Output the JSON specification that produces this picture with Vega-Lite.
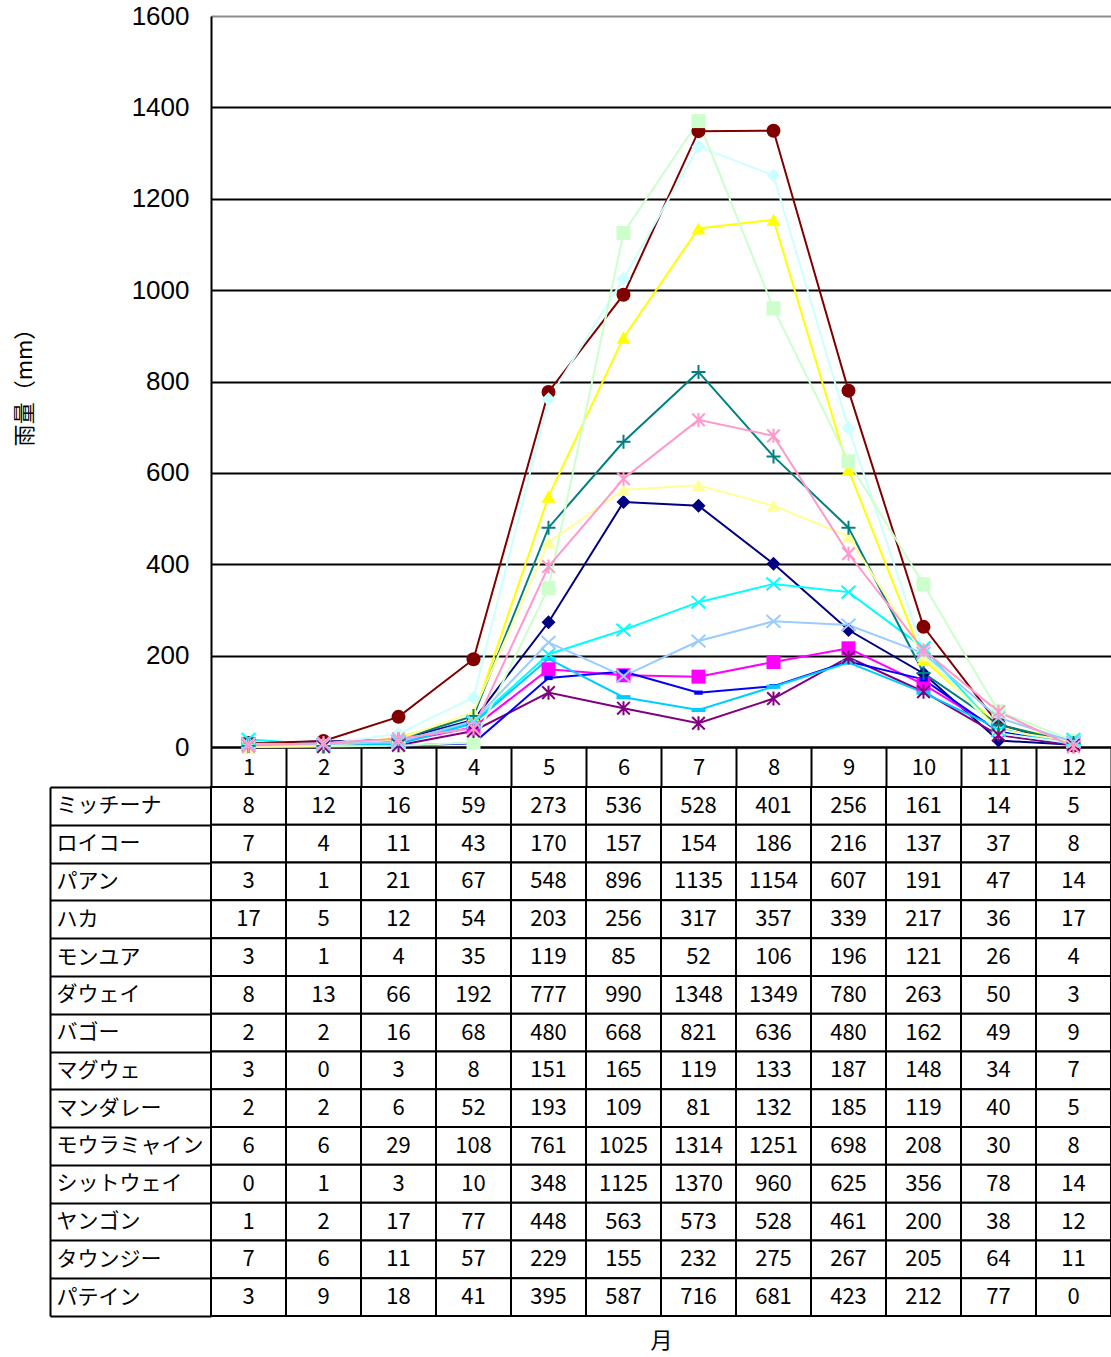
{
  "$schema": "https://vega.github.io/schema/vega-lite/v6.json",
  "background": "white",
  "padding": {"left": 13, "top": 3, "right": 0, "bottom": 4},
  "spacing": 40,
  "bounds": "flush",
  "config": {"view": {"stroke": null}, "font": "Noto Sans CJK JP"},
  "datasets": {
    "rain": [
      {"s":"ミッチーナ","m":1,"v":8},{"s":"ミッチーナ","m":2,"v":12},{"s":"ミッチーナ","m":3,"v":16},{"s":"ミッチーナ","m":4,"v":59},{"s":"ミッチーナ","m":5,"v":273},{"s":"ミッチーナ","m":6,"v":536},{"s":"ミッチーナ","m":7,"v":528},{"s":"ミッチーナ","m":8,"v":401},{"s":"ミッチーナ","m":9,"v":256},{"s":"ミッチーナ","m":10,"v":161},{"s":"ミッチーナ","m":11,"v":14},{"s":"ミッチーナ","m":12,"v":5},
      {"s":"ロイコー","m":1,"v":7},{"s":"ロイコー","m":2,"v":4},{"s":"ロイコー","m":3,"v":11},{"s":"ロイコー","m":4,"v":43},{"s":"ロイコー","m":5,"v":170},{"s":"ロイコー","m":6,"v":157},{"s":"ロイコー","m":7,"v":154},{"s":"ロイコー","m":8,"v":186},{"s":"ロイコー","m":9,"v":216},{"s":"ロイコー","m":10,"v":137},{"s":"ロイコー","m":11,"v":37},{"s":"ロイコー","m":12,"v":8},
      {"s":"パアン","m":1,"v":3},{"s":"パアン","m":2,"v":1},{"s":"パアン","m":3,"v":21},{"s":"パアン","m":4,"v":67},{"s":"パアン","m":5,"v":548},{"s":"パアン","m":6,"v":896},{"s":"パアン","m":7,"v":1135},{"s":"パアン","m":8,"v":1154},{"s":"パアン","m":9,"v":607},{"s":"パアン","m":10,"v":191},{"s":"パアン","m":11,"v":47},{"s":"パアン","m":12,"v":14},
      {"s":"ハカ","m":1,"v":17},{"s":"ハカ","m":2,"v":5},{"s":"ハカ","m":3,"v":12},{"s":"ハカ","m":4,"v":54},{"s":"ハカ","m":5,"v":203},{"s":"ハカ","m":6,"v":256},{"s":"ハカ","m":7,"v":317},{"s":"ハカ","m":8,"v":357},{"s":"ハカ","m":9,"v":339},{"s":"ハカ","m":10,"v":217},{"s":"ハカ","m":11,"v":36},{"s":"ハカ","m":12,"v":17},
      {"s":"モンユア","m":1,"v":3},{"s":"モンユア","m":2,"v":1},{"s":"モンユア","m":3,"v":4},{"s":"モンユア","m":4,"v":35},{"s":"モンユア","m":5,"v":119},{"s":"モンユア","m":6,"v":85},{"s":"モンユア","m":7,"v":52},{"s":"モンユア","m":8,"v":106},{"s":"モンユア","m":9,"v":196},{"s":"モンユア","m":10,"v":121},{"s":"モンユア","m":11,"v":26},{"s":"モンユア","m":12,"v":4},
      {"s":"ダウェイ","m":1,"v":8},{"s":"ダウェイ","m":2,"v":13},{"s":"ダウェイ","m":3,"v":66},{"s":"ダウェイ","m":4,"v":192},{"s":"ダウェイ","m":5,"v":777},{"s":"ダウェイ","m":6,"v":990},{"s":"ダウェイ","m":7,"v":1348},{"s":"ダウェイ","m":8,"v":1349},{"s":"ダウェイ","m":9,"v":780},{"s":"ダウェイ","m":10,"v":263},{"s":"ダウェイ","m":11,"v":50},{"s":"ダウェイ","m":12,"v":3},
      {"s":"バゴー","m":1,"v":2},{"s":"バゴー","m":2,"v":2},{"s":"バゴー","m":3,"v":16},{"s":"バゴー","m":4,"v":68},{"s":"バゴー","m":5,"v":480},{"s":"バゴー","m":6,"v":668},{"s":"バゴー","m":7,"v":821},{"s":"バゴー","m":8,"v":636},{"s":"バゴー","m":9,"v":480},{"s":"バゴー","m":10,"v":162},{"s":"バゴー","m":11,"v":49},{"s":"バゴー","m":12,"v":9},
      {"s":"マグウェ","m":1,"v":3},{"s":"マグウェ","m":2,"v":0},{"s":"マグウェ","m":3,"v":3},{"s":"マグウェ","m":4,"v":8},{"s":"マグウェ","m":5,"v":151},{"s":"マグウェ","m":6,"v":165},{"s":"マグウェ","m":7,"v":119},{"s":"マグウェ","m":8,"v":133},{"s":"マグウェ","m":9,"v":187},{"s":"マグウェ","m":10,"v":148},{"s":"マグウェ","m":11,"v":34},{"s":"マグウェ","m":12,"v":7},
      {"s":"マンダレー","m":1,"v":2},{"s":"マンダレー","m":2,"v":2},{"s":"マンダレー","m":3,"v":6},{"s":"マンダレー","m":4,"v":52},{"s":"マンダレー","m":5,"v":193},{"s":"マンダレー","m":6,"v":109},{"s":"マンダレー","m":7,"v":81},{"s":"マンダレー","m":8,"v":132},{"s":"マンダレー","m":9,"v":185},{"s":"マンダレー","m":10,"v":119},{"s":"マンダレー","m":11,"v":40},{"s":"マンダレー","m":12,"v":5},
      {"s":"モウラミャイン","m":1,"v":6},{"s":"モウラミャイン","m":2,"v":6},{"s":"モウラミャイン","m":3,"v":29},{"s":"モウラミャイン","m":4,"v":108},{"s":"モウラミャイン","m":5,"v":761},{"s":"モウラミャイン","m":6,"v":1025},{"s":"モウラミャイン","m":7,"v":1314},{"s":"モウラミャイン","m":8,"v":1251},{"s":"モウラミャイン","m":9,"v":698},{"s":"モウラミャイン","m":10,"v":208},{"s":"モウラミャイン","m":11,"v":30},{"s":"モウラミャイン","m":12,"v":8},
      {"s":"シットウェイ","m":1,"v":0},{"s":"シットウェイ","m":2,"v":1},{"s":"シットウェイ","m":3,"v":3},{"s":"シットウェイ","m":4,"v":10},{"s":"シットウェイ","m":5,"v":348},{"s":"シットウェイ","m":6,"v":1125},{"s":"シットウェイ","m":7,"v":1370},{"s":"シットウェイ","m":8,"v":960},{"s":"シットウェイ","m":9,"v":625},{"s":"シットウェイ","m":10,"v":356},{"s":"シットウェイ","m":11,"v":78},{"s":"シットウェイ","m":12,"v":14},
      {"s":"ヤンゴン","m":1,"v":1},{"s":"ヤンゴン","m":2,"v":2},{"s":"ヤンゴン","m":3,"v":17},{"s":"ヤンゴン","m":4,"v":77},{"s":"ヤンゴン","m":5,"v":448},{"s":"ヤンゴン","m":6,"v":563},{"s":"ヤンゴン","m":7,"v":573},{"s":"ヤンゴン","m":8,"v":528},{"s":"ヤンゴン","m":9,"v":461},{"s":"ヤンゴン","m":10,"v":200},{"s":"ヤンゴン","m":11,"v":38},{"s":"ヤンゴン","m":12,"v":12},
      {"s":"タウンジー","m":1,"v":7},{"s":"タウンジー","m":2,"v":6},{"s":"タウンジー","m":3,"v":11},{"s":"タウンジー","m":4,"v":57},{"s":"タウンジー","m":5,"v":229},{"s":"タウンジー","m":6,"v":155},{"s":"タウンジー","m":7,"v":232},{"s":"タウンジー","m":8,"v":275},{"s":"タウンジー","m":9,"v":267},{"s":"タウンジー","m":10,"v":205},{"s":"タウンジー","m":11,"v":64},{"s":"タウンジー","m":12,"v":11},
      {"s":"パテイン","m":1,"v":3},{"s":"パテイン","m":2,"v":9},{"s":"パテイン","m":3,"v":18},{"s":"パテイン","m":4,"v":41},{"s":"パテイン","m":5,"v":395},{"s":"パテイン","m":6,"v":587},{"s":"パテイン","m":7,"v":716},{"s":"パテイン","m":8,"v":681},{"s":"パテイン","m":9,"v":423},{"s":"パテイン","m":10,"v":212},{"s":"パテイン","m":11,"v":77},{"s":"パテイン","m":12,"v":0}
    ]
  },
  "vconcat": [
    {
      "width": 900,
      "height": 731,
      "data": {"name": "rain"},
      "encoding": {
        "x": {
          "field": "m", "type": "ordinal",
          "scale": {"type": "band", "paddingInner": 0, "paddingOuter": 0},
          "axis": {
            "orient": "bottom", "title": null, "grid": false,
            "domain": true, "domainColor": "black", "domainWidth": 2,
            "ticks": true, "tickBand": "extent", "tickSize": 40, "tickColor": "black", "tickWidth": 2,
            "labelAngle": 0, "labelFont": "Noto Sans CJK JP", "labelFontSize": 22, "labelColor": "black",
            "labelBaseline": "middle", "labelPadding": -20
          }
        },
        "y": {
          "field": "v", "type": "quantitative",
          "scale": {"domain": [0, 1600], "nice": false, "zero": true},
          "axis": {
            "values": [0, 200, 400, 600, 800, 1000, 1200, 1400, 1600],
            "format": "d",
            "grid": true, "gridWidth": 2,
            "gridColor": {"condition": {"test": "datum.value == 1600", "value": "#8c8c8c"}, "value": "black"},
            "domain": true, "domainColor": "black", "domainWidth": 2,
            "ticks": false,
            "labelFont": "Liberation Sans", "labelFontSize": 26, "labelColor": "black", "labelPadding": 22,
            "title": "雨量（mm）", "titleFont": "Noto Sans CJK JP", "titleFontSize": 22,
            "titleFontWeight": "normal", "titleColor": "black", "titlePadding": 95
          }
        },
        "color": {
          "field": "s", "type": "nominal", "legend": null,
          "scale": {
            "domain": ["ミッチーナ","ロイコー","パアン","ハカ","モンユア","ダウェイ","バゴー","マグウェ","マンダレー","モウラミャイン","シットウェイ","ヤンゴン","タウンジー","パテイン"],
            "range": ["#000080","#FF00FF","#FFFF00","#00FFFF","#800080","#800000","#008080","#0000FF","#00CCFF","#CCFFFF","#CCFFCC","#FFFF99","#99CCFF","#FF99CC"]
          }
        }
      },
      "layer": [
        {"mark": {"type": "line", "strokeWidth": 2}},
        {
          "transform": [{"filter": {"field": "s", "oneOf": ["ミッチーナ","ロイコー","パアン","ダウェイ","マグウェ","マンダレー","モウラミャイン","シットウェイ","ヤンゴン"]}}],
          "mark": {"type": "point", "filled": true, "opacity": 1, "size": 196},
          "encoding": {
            "shape": {
              "field": "s", "type": "nominal", "legend": null,
              "scale": {
                "domain": ["ミッチーナ","ロイコー","パアン","ハカ","モンユア","ダウェイ","バゴー","マグウェ","マンダレー","モウラミャイン","シットウェイ","ヤンゴン","タウンジー","パテイン"],
                "range": ["diamond","square","triangle-up","M-1,-0.9L1,0.9M-1,0.9L1,-0.9","M-0.9,-0.9L0.9,0.9M-0.9,0.9L0.9,-0.9M0,-1V1","circle","M-1,0H1M0,-1V1","M-0.6,-0.3H0.6V0.3H-0.6Z","M-1,-0.3H1V0.3H-1Z","diamond","square","triangle-up","M-1,-0.9L1,0.9M-1,0.9L1,-0.9","M-0.9,-0.9L0.9,0.9M-0.9,0.9L0.9,-0.9M0,-1V1"]
              }
            }
          }
        },
        {
          "transform": [{"filter": {"field": "s", "oneOf": ["ハカ","モンユア","バゴー","タウンジー","パテイン"]}}],
          "mark": {"type": "point", "filled": false, "opacity": 1, "size": 196, "strokeWidth": 2},
          "encoding": {
            "shape": {
              "field": "s", "type": "nominal", "legend": null,
              "scale": {
                "domain": ["ミッチーナ","ロイコー","パアン","ハカ","モンユア","ダウェイ","バゴー","マグウェ","マンダレー","モウラミャイン","シットウェイ","ヤンゴン","タウンジー","パテイン"],
                "range": ["diamond","square","triangle-up","M-1,-0.9L1,0.9M-1,0.9L1,-0.9","M-0.9,-0.9L0.9,0.9M-0.9,0.9L0.9,-0.9M0,-1V1","circle","M-1,0H1M0,-1V1","M-0.6,-0.3H0.6V0.3H-0.6Z","M-1,-0.3H1V0.3H-1Z","diamond","square","triangle-up","M-1,-0.9L1,0.9M-1,0.9L1,-0.9","M-0.9,-0.9L0.9,0.9M-0.9,0.9L0.9,-0.9M0,-1V1"]
              }
            }
          }
        }
      ]
    },
    {
      "width": 900,
      "height": 529,
      "data": {"name": "rain"},
      "encoding": {
        "x": {
          "field": "m", "type": "ordinal",
          "scale": {"type": "band", "paddingInner": 0, "paddingOuter": 0},
          "axis": {
            "title": "月", "labels": false, "ticks": false, "domain": false, "grid": false,
            "titleFont": "Noto Sans CJK JP", "titleFontSize": 22, "titleFontWeight": "normal",
            "titleColor": "black", "titlePadding": 14
          }
        },
        "y": {
          "field": "s", "type": "nominal",
          "sort": ["ミッチーナ","ロイコー","パアン","ハカ","モンユア","ダウェイ","バゴー","マグウェ","マンダレー","モウラミャイン","シットウェイ","ヤンゴン","タウンジー","パテイン"],
          "scale": {"type": "band", "paddingInner": 0, "paddingOuter": 0},
          "axis": {
            "title": null, "orient": "left", "offset": 161, "grid": false,
            "domain": true, "domainColor": "black", "domainWidth": 2,
            "ticks": true, "tickBand": "extent", "tickSize": -161, "tickColor": "black", "tickWidth": 2,
            "labelAlign": "left", "labelPadding": 155, "labelFont": "Noto Sans CJK JP",
            "labelFontSize": 21, "labelColor": "black", "labelBaseline": "middle"
          }
        }
      },
      "layer": [
        {"mark": {"type": "rect", "fill": "white", "stroke": "black", "strokeWidth": 2}},
        {
          "mark": {"type": "text", "font": "Noto Sans CJK JP", "fontSize": 22, "color": "black", "baseline": "middle"},
          "encoding": {"text": {"field": "v", "type": "quantitative"}}
        }
      ]
    }
  ]
}
